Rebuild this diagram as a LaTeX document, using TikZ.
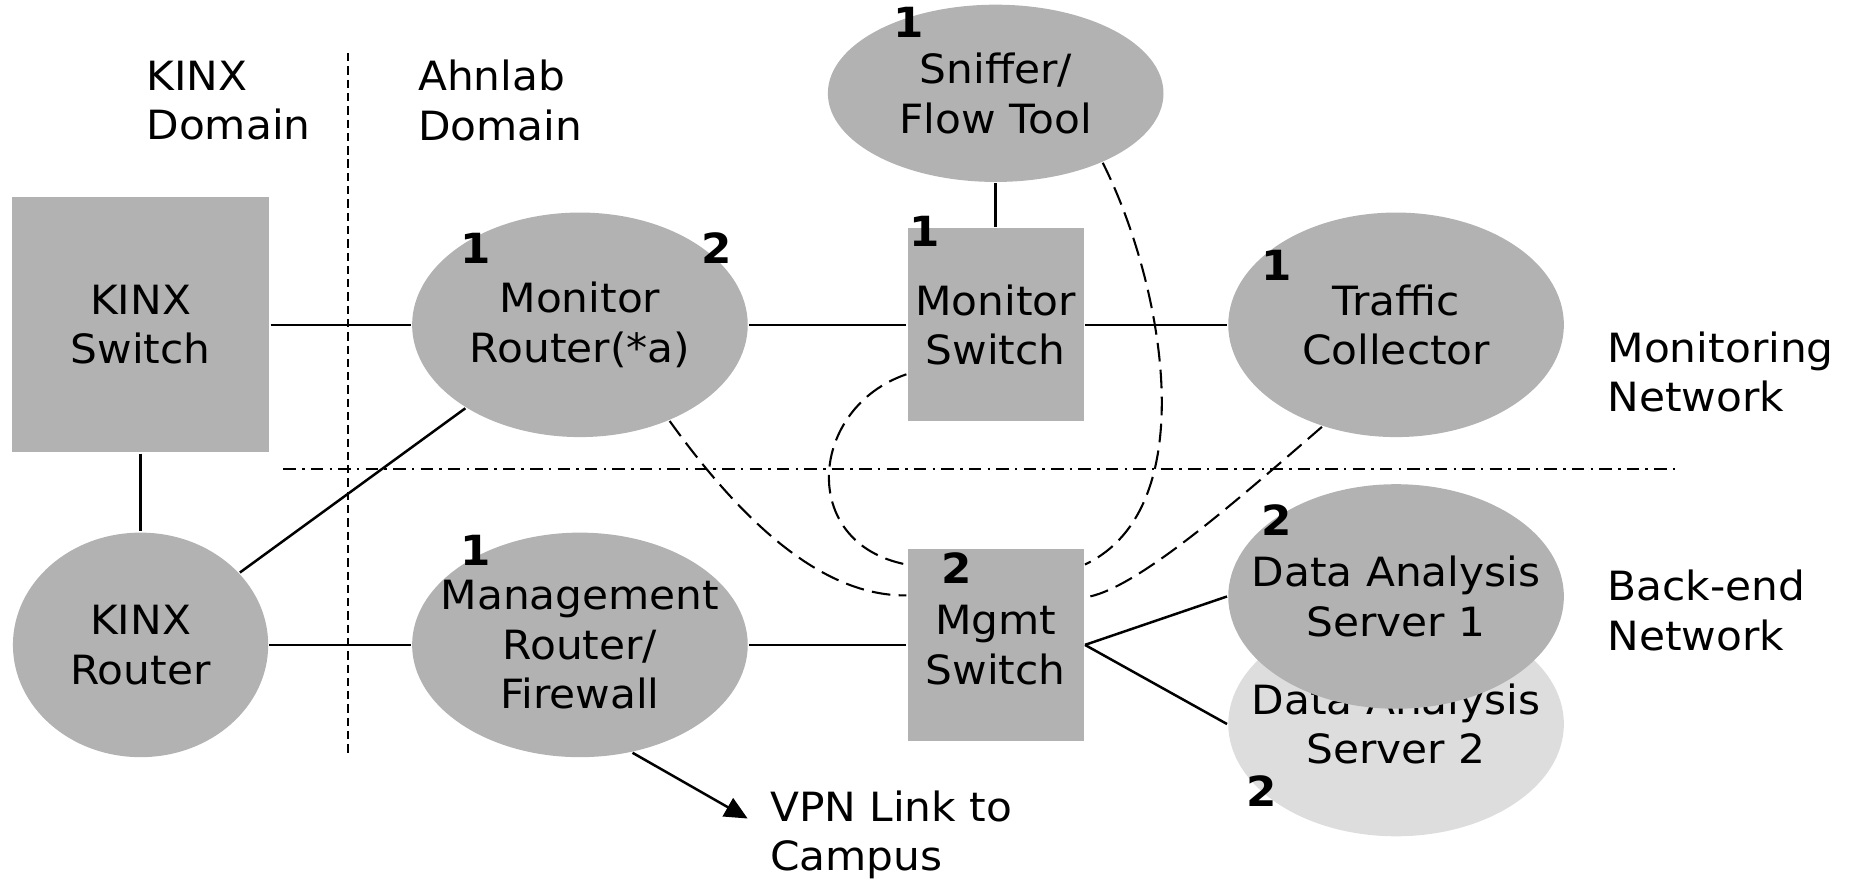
\documentclass[tikz,border=0pt]{standalone}
\usepackage{fontspec}
\setmainfont{DejaVu Sans}[FakeStretch=1.05]
\usetikzlibrary{shapes,arrows.meta,calc}
\definecolor{devgray}{RGB}{178,178,178}
\definecolor{srvgray}{RGB}{221,221,221}
\tikzset{
  dev/.style={ellipse,fill=devgray,minimum width=2.84cm,minimum height=1.9cm,inner sep=0pt},
  sw/.style={rectangle,fill=devgray,inner sep=0pt,align=center},
  txt/.style={align=center,inner sep=0pt},
  port/.style={font=\bfseries,inner sep=0pt},
  note/.style={align=left,anchor=west,inner sep=0pt},
  tap/.style={dash pattern=on 4.5pt off 2pt,line width=.5pt},
}
\begin{document}
\begin{tikzpicture}[x=0.01cm,y=-0.01cm,line width=.6pt,font=\fontsize{9.7}{11.9}\selectfont]
\useasboundingbox (0,0) rectangle (1568,748);
\draw[line width=.5pt,dash pattern=on 2pt off 1.2pt] (295,45) -- (295,640);
\draw[line width=.5pt,dash pattern=on 3pt off 1.5pt on .6pt off 1.5pt] (240,397) -- (1418,397);
\node[note] (kd) at (123,85) {KINX\\Domain};
\node[note] (ad) at (353,85) {Ahnlab\\Domain};
\node[note] (mn) at (1360,315) {Monitoring\\Network};
\node[note] (bn) at (1360,517) {Back-end\\Network};
\node[note] (vpn) at (651,707) {VPN Link to\\Campus};
\coordinate (vpnend) at (633,693);
\node[sw,minimum width=2.18cm,minimum height=2.16cm] (ks) at (119,275) {KINX\\Switch};
\node[dev,minimum width=2.16cm,label={[txt]center:KINX\\Router}] (kr) at (119,546) {};
\node[dev,label={[txt]center:Monitor\\Router(*a)}] (mr) at (491,275) {};
\node[dev,minimum height=1.5cm,label={[txt]center:Sniffer/\\Flow Tool}] (sn) at (843,79) {};
\node[sw,minimum width=1.49cm,minimum height=1.63cm] (msw) at (843,275) {Monitor\\Switch};
\node[dev,label={[txt]center:Traffic\\Collector}] (tc) at (1182,275) {};
\node[dev,label={[txt]center:Management\\Router/\\Firewall}] (mgr) at (491,546) {};
\node[sw,minimum width=1.49cm,minimum height=1.63cm] (mgs) at (843,546) {Mgmt\\Switch};
\node[dev,fill=srvgray,label={[txt]center:Data Analysis\\Server 2}] (das2) at (1182,613) {};
\node[dev,label={[txt]center:Data Analysis\\Server 1}] (das1) at (1182,505) {};
\node[port] (mr1) at (403,210) {1};
\node[port] (mr2) at (607,210) {2};
\node[port] (sn1) at (769,19) {1};
\node[port] (msw1) at (783,196) {1};
\node[port] (tc1) at (1081,225) {1};
\node[port] (mgr1) at (403,466) {1};
\node[port] (mgs2) at (810,481) {2};
\node[port] (das12) at (1081,440) {2};
\node[port] (das22) at (1068,670) {2};
\draw (ks) -- (mr);
\draw (mr) -- (msw);
\draw (msw) -- (tc);
\draw (sn) -- (msw);
\draw (ks) -- (kr);
\draw (kr) -- (mr);
\draw (kr) -- (mgr);
\draw (mgr) -- (mgs);
\draw (mgs.east) -- (das1.west);
\draw (mgs.east) -- (das2.west);
\draw[-{Triangle[length=5.5pt,width=5pt]}] (mgr.-64) -- (vpnend);
\draw[tap] (mr.-47) .. controls (620,430) and (690,505) .. (mgs.151);
\draw[tap] (msw.209) .. controls (685,345) and (675,460) .. (mgs.138);
\draw[tap] (sn.-33) .. controls (985,240) and (1020,430) .. (mgs.42);
\draw[tap] (tc.-126) .. controls (1040,430) and (960,500) .. (mgs.28);
\end{tikzpicture}
\end{document}
